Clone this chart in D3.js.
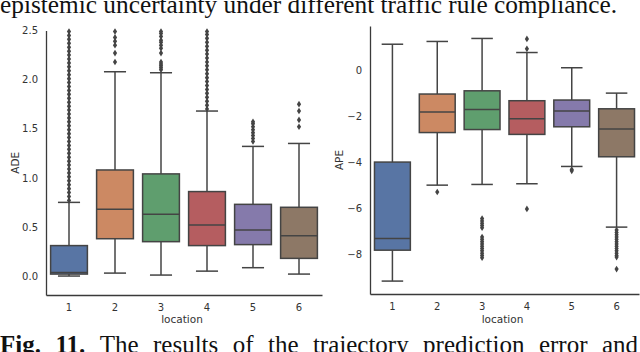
<!DOCTYPE html>
<html>
<head>
<meta charset="utf-8">
<script src="https://cdn.jsdelivr.net/npm/d3@7"></script>
<style>
  html, body { margin: 0; padding: 0; background: #fff; }
  svg { display: block; }
</style>
</head>
<body>
<svg id="chart" width="640" height="352"></svg>
<script>
// Box plot data
const locations = ['1', '2', '3', '4', '5', '6'];
const boxColors = ['#5875a4', '#cc8963', '#5f9e6e', '#b55d60', '#857aab', '#8d7866'];

// ADE (left panel)
const adeLow    = [0.00, 0.03, 0.01, 0.05, 0.085, 0.02];
const adeQ1     = [0.02, 0.38, 0.35, 0.31, 0.32, 0.18];
const adeMedian = [0.035, 0.68, 0.63, 0.52, 0.47, 0.41];
const adeQ3     = [0.31, 1.08, 1.04, 0.86, 0.73, 0.70];
const adeHigh   = [0.75, 2.08, 2.07, 1.68, 1.32, 1.35];
const adeOutliers = [
  [0.77, 0.81, 0.85, 0.89, 0.93, 0.97, 1.01, 1.05, 1.09, 1.13, 1.17, 1.21, 1.25, 1.29, 1.33,
   1.37, 1.41, 1.45, 1.49, 1.53, 1.57, 1.61, 1.65, 1.69, 1.73, 1.77, 1.81, 1.85, 1.89, 1.93,
   1.97, 2.01, 2.05, 2.09, 2.13, 2.17, 2.21, 2.25, 2.29, 2.33, 2.37, 2.41, 2.45, 2.49],
  [2.18, 2.27, 2.35, 2.39, 2.43, 2.49],
  [2.10, 2.12, 2.14, 2.16, 2.18, 2.27, 2.32, 2.35, 2.38, 2.40, 2.44, 2.47, 2.49],
  [1.70, 1.74, 1.78, 1.82, 1.86, 1.90, 1.94, 1.98, 2.02, 2.06, 2.10, 2.14, 2.18, 2.22, 2.26,
   2.30, 2.34, 2.38, 2.42, 2.46, 2.49],
  [1.37, 1.40, 1.43, 1.46, 1.49, 1.52, 1.55, 1.57],
  [1.52, 1.59, 1.68, 1.75]
];
const adeTicks = [0, 0.5, 1.0, 1.5, 2.0, 2.5];

// APE (right panel)
const apeLow    = [-9.16, -5.00, -4.97, -4.94, -4.19, -6.82];
const apeQ1     = [-7.82, -2.72, -2.59, -2.80, -2.47, -3.77];
const apeMedian = [-7.31, -1.83, -1.72, -2.12, -1.79, -2.57];
const apeQ3     = [-4.00, -1.05, -0.91, -1.34, -1.31, -1.69];
const apeHigh   = [1.11, 1.23, 1.36, 0.75, 0.09, -1.01];
const apeOutliers = [
  [],
  [-5.30],
  [-6.45, -6.55, -6.65, -6.75, -6.85, -7.25, -7.35, -7.45, -7.55, -7.65, -7.75, -7.85,
   -7.95, -8.05, -8.15],
  [0.91, 1.34, -6.03],
  [-4.32, -4.38],
  [-6.95, -7.05, -7.15, -7.25, -7.35, -7.45, -7.55, -7.65, -7.75, -7.85, -7.95, -8.05,
   -8.12, -8.64]
];
const apeTicks = [-8, -6, -4, -2, 0];

const lineColor = '#444';
const svg = d3.select('#chart');

function drawPanel(p) {
  const x = d3.scaleBand().domain(locations).range(p.xRange).paddingInner(0).paddingOuter(0);
  const y = d3.scaleLinear().domain(p.yDomain).range(p.yRange);
  const g = svg.append('g');
  const bw = x.bandwidth() * 0.8;
  const cw = x.bandwidth() * 0.48;

  locations.forEach((loc, i) => {
    const cx = x(loc) + x.bandwidth() / 2;
    const bg = g.append('g');
    // whiskers
    bg.append('line').attr('x1', cx).attr('x2', cx)
      .attr('y1', y(p.q3[i])).attr('y2', y(p.high[i]));
    bg.append('line').attr('x1', cx).attr('x2', cx)
      .attr('y1', y(p.q1[i])).attr('y2', y(p.low[i]));
    // caps
    bg.append('line').attr('x1', cx - cw / 2).attr('x2', cx + cw / 2)
      .attr('y1', y(p.high[i])).attr('y2', y(p.high[i]));
    bg.append('line').attr('x1', cx - cw / 2).attr('x2', cx + cw / 2)
      .attr('y1', y(p.low[i])).attr('y2', y(p.low[i]));
    bg.selectAll('line').attr('stroke', lineColor).attr('stroke-width', 1.5);
    // box
    bg.append('rect')
      .attr('x', cx - bw / 2).attr('width', bw)
      .attr('y', y(p.q3[i])).attr('height', y(p.q1[i]) - y(p.q3[i]))
      .attr('fill', boxColors[i])
      .attr('stroke', lineColor).attr('stroke-width', 1.5);
    bg.append('line')
      .attr('x1', cx - bw / 2).attr('x2', cx + bw / 2)
      .attr('y1', y(p.median[i])).attr('y2', y(p.median[i]))
      .attr('stroke', lineColor).attr('stroke-width', 1.5);
    // fliers
    bg.selectAll('path.flier').data(p.outliers[i]).enter().append('path')
      .attr('class', 'flier')
      .attr('transform', d => `translate(${cx},${y(d)})`)
      .attr('d', 'M0,-3.3L2.1,0L0,3.3L-2.1,0Z')
      .attr('fill', lineColor);
  });

  // axes
  const yAxis = g.append('g')
    .attr('transform', `translate(${p.xRange[0]},0)`)
    .call(d3.axisLeft(y).tickValues(p.ticks).tickFormat(p.fmt).tickSize(0).tickSizeOuter(0).tickPadding(8));
  const xAxis = g.append('g')
    .attr('transform', `translate(0,${p.yRange[0]})`)
    .call(d3.axisBottom(x).tickSize(0).tickSizeOuter(0).tickPadding(9));
  [yAxis, xAxis].forEach(a => {
    a.select('.domain').attr('stroke', '#3a3a3a').attr('stroke-width', 1.3);
    a.selectAll('text').attr('fill', '#333').attr('font-size', 10)
      .attr('font-family', 'DejaVu Sans, sans-serif');
  });

  // axis labels
  const midY = (p.yRange[0] + p.yRange[1]) / 2;
  g.append('text')
    .attr('transform', `translate(${p.yLabelX},${midY}) rotate(-90)`)
    .attr('text-anchor', 'middle').attr('dy', '0.35em')
    .attr('font-family', 'DejaVu Sans, sans-serif').attr('font-size', 10.5).attr('fill', '#333')
    .text(p.yLabel);
  g.append('text')
    .attr('x', (p.xRange[0] + p.xRange[1]) / 2 - 2).attr('y', 323)
    .attr('text-anchor', 'middle')
    .attr('font-family', 'DejaVu Sans, sans-serif').attr('font-size', 10.5).attr('fill', '#333')
    .text('location');
}

drawPanel({
  xRange: [46, 322], yDomain: [-0.193, 2.5], yRange: [295, 30.5],
  low: adeLow, q1: adeQ1, median: adeMedian, q3: adeQ3, high: adeHigh, outliers: adeOutliers,
  ticks: adeTicks, fmt: d3.format('.1f'), yLabel: 'ADE', yLabelX: 15
});
drawPanel({
  xRange: [370, 639], yDomain: [-9.72, 1.9], yRange: [294, 26],
  low: apeLow, q1: apeQ1, median: apeMedian, q3: apeQ3, high: apeHigh, outliers: apeOutliers,
  ticks: apeTicks, fmt: d => d3.format('d')(d).replace('-', '\u2212'), yLabel: 'APE', yLabelX: 339
});

// surrounding paper text (cropped at the page edges, as in the source)
svg.append('text')
  .attr('x', 0).attr('y', 13)
  .attr('font-family', 'Liberation Serif, Times New Roman, serif').attr('font-size', 25)
  .attr('fill', '#111')
  .attr('textLength', 617).attr('lengthAdjust', 'spacingAndGlyphs')
  .text('epistemic uncertainty under different traffic rule compliance.');

const captionWords = ['Fig.', '11.', 'The', 'results', 'of', 'the', 'trajectory', 'prediction', 'error', 'and'];
const cap = svg.append('g');
const nodes = captionWords.map((w, i) => cap.append('text')
  .attr('y', 353)
  .attr('font-family', 'Liberation Serif, Times New Roman, serif').attr('font-size', 25)
  .attr('font-weight', i < 2 ? 'bold' : 'normal')
  .attr('fill', '#111')
  .text(w));
const widths = nodes.map(n => n.node().getComputedTextLength());
const gap = (638 - d3.sum(widths)) / (captionWords.length - 1);
let cursor = 0;
nodes.forEach((n, i) => { n.attr('x', cursor); cursor += widths[i] + gap; });
</script>
</body>
</html>
